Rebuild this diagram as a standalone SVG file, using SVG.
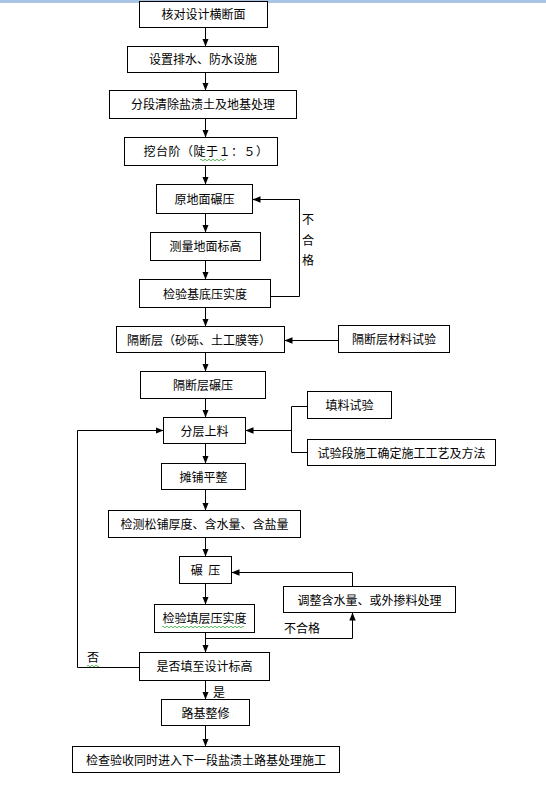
<svg xmlns="http://www.w3.org/2000/svg" width="546" height="786" viewBox="0 0 546 786">
<defs>
<marker id="ah" viewBox="0 0 8 8" refX="8" refY="4" markerWidth="8" markerHeight="8" markerUnits="userSpaceOnUse" orient="auto">
<path d="M0,0.8 L8,4 L0,7.2 Z" fill="#000"/>
</marker>
</defs>
<style>
.b{fill:#fff;stroke:#000;stroke-width:1}
.t{font-family:"Noto Sans CJK SC","Noto Sans CJK JP",sans-serif;font-size:12px;fill:#000;text-anchor:middle}
.c{fill:none;stroke:#000;stroke-width:1}
.a{fill:none;stroke:#000;stroke-width:1;marker-end:url(#ah)}
.w{fill:none;stroke:#2ca02c;stroke-width:0.8}
</style>
<rect width="546" height="786" fill="#fff"/>
<rect x="0" y="0" width="546" height="3" fill="#a9c4e4"/>

<g id="n1"><rect class="b" x="139.5" y="1.5" width="128" height="26"/><text class="t" x="203.5" y="18.5">核对设计横断面</text></g>
<g id="n2"><rect class="b" x="127.5" y="46.5" width="151" height="26"/><text class="t" x="203" y="64">设置排水、防水设施</text></g>
<g id="n3"><rect class="b" x="109.5" y="90.5" width="187" height="28"/><text class="t" x="203" y="109">分段清除盐渍土及地基处理</text></g>
<g id="n4"><rect class="b" x="124.5" y="137.5" width="153" height="28"/><text class="t" x="206" y="156" letter-spacing="0.5">挖台阶（陡于１：５）</text><path class="w" d="M200,160 q1,-1.5 2,0 t2,0 t2,0 t2,0 t2,0 t2,0 t2,0 t2,0 t2,0 t2,0 t2,0 t2,0 t2,0"/></g>
<g id="n5"><rect class="b" x="156.5" y="184.5" width="96" height="29"/><text class="t" x="204.5" y="203.5">原地面碾压</text></g>
<g id="n6"><rect class="b" x="150.5" y="232.5" width="110" height="28"/><text class="t" x="205.5" y="251">测量地面标高</text></g>
<g id="n7"><rect class="b" x="139.5" y="279.5" width="131" height="28"/><text class="t" x="205" y="298.5">检验基底压实度</text></g>
<g id="n8"><rect class="b" x="116.5" y="326.5" width="168" height="26"/><text class="t" x="199" y="344.5">隔断层（砂砾、土工膜等）</text></g>
<g id="n9"><rect class="b" x="338.5" y="325.5" width="111" height="27"/><text class="t" x="394" y="343.5">隔断层材料试验</text></g>
<g id="n10"><rect class="b" x="140.5" y="371.5" width="125" height="27"/><text class="t" x="203" y="389.5">隔断层碾压</text></g>
<g id="n11"><rect class="b" x="307.5" y="391.5" width="84" height="27"/><text class="t" x="349.5" y="409.5">填料试验</text></g>
<g id="n12"><rect class="b" x="163.5" y="417.5" width="82" height="26"/><text class="t" x="204.5" y="435.5">分层上料</text></g>
<g id="n13"><rect class="b" x="307.5" y="439.5" width="188" height="26"/><text class="t" x="401.5" y="457.5">试验段施工确定施工工艺及方法</text></g>
<g id="n14"><rect class="b" x="161.5" y="463.5" width="84" height="26"/><text class="t" x="203.5" y="481.5">摊铺平整</text></g>
<g id="n15"><rect class="b" x="108.5" y="510.5" width="192" height="27"/><text class="t" x="204.5" y="528.5">检测松铺厚度、含水量、含盐量</text></g>
<g id="n16"><rect class="b" x="179.5" y="556.5" width="52" height="27"/><text class="t" x="205.5" y="574.5" xml:space="preserve">碾  压</text></g>
<g id="n17"><rect class="b" x="154.5" y="604.5" width="100" height="28"/><text class="t" x="204.5" y="622.5">检验填层压实度</text><path class="w" d="M162,627 q1,-1.5 2,0 t2,0 t2,0 t2,0 t2,0 t2,0 t2,0 t2,0 t2,0 t2,0 t2,0 t2,0 t2,0 t2,0 t2,0 t2,0 t2,0 t2,0 t2,0 t2,0 t2,0 t2,0 t2,0 t2,0 t2,0 t2,0 t2,0 t2,0 t2,0 t2,0 t2,0 t2,0 t2,0 t2,0 t2,0 t2,0 t2,0 t2,0 t2,0 t2,0 t2,0"/></g>
<g id="n18"><rect class="b" x="283.5" y="586.5" width="172" height="26"/><text class="t" x="369.5" y="604.5">调整含水量、或外掺料处理</text></g>
<g id="n19"><rect class="b" x="139.5" y="652.5" width="130" height="28"/><text class="t" x="204.5" y="671">是否填至设计标高</text></g>
<g id="n20"><rect class="b" x="161.5" y="699.5" width="88" height="26"/><text class="t" x="205.5" y="717.5">路基整修</text></g>
<g id="n21"><rect class="b" x="72.5" y="746.5" width="267" height="26"/><text class="t" x="206" y="764.5">检查验收同时进入下一段盐渍土路基处理施工</text></g>

<g id="connectors">
<path class="a" d="M205.5,27.5 V46.5"/>
<path class="a" d="M205.5,72.5 V90.5"/>
<path class="a" d="M205.5,118.5 V137.5"/>
<path class="a" d="M205.5,165.5 V184.5"/>
<path class="a" d="M205.5,213.5 V232.5"/>
<path class="a" d="M205.5,260.5 V279.5"/>
<path class="a" d="M205.5,307.5 V326.5"/>
<path class="a" d="M205.5,352.5 V371.5"/>
<path class="a" d="M205.5,398.5 V417.5"/>
<path class="a" d="M205.5,443.5 V463.5"/>
<path class="a" d="M205.5,489.5 V510.5"/>
<path class="a" d="M205.5,537.5 V556.5"/>
<path class="a" d="M205.5,583.5 V604.5"/>
<path class="a" d="M205.5,632.5 V652.5"/>
<path class="a" d="M205.5,680.5 V699.5"/>
<path class="a" d="M205.5,725.5 V746.5"/>
<path class="a" d="M270.5,296.5 H299.5 V199.5 H252.5"/>
<path class="a" d="M338.5,340.5 H284.5"/>
<path class="c" d="M307.5,406.5 H291.5 V452.5 H307.5"/>
<path class="a" d="M291.5,430.5 H245.5"/>
<path class="a" d="M139.5,667.5 H77.5 V430.5 H163.5"/>
<path class="a" d="M205.5,638.5 H352.5 V612.5"/>
<path class="a" d="M352.5,586.5 V572.5 H231.5"/>
</g>
<g id="labels">
<text class="t" x="308" y="224">不</text>
<text class="t" x="308" y="245">合</text>
<text class="t" x="308" y="265">格</text>
<text class="t" x="302" y="633">不合格</text>
<text class="t" x="93" y="662">否</text>
<path class="w" d="M87,666 q1,-1.5 2,0 t2,0 t2,0 t2,0 t2,0 t2,0"/>
<text class="t" x="219" y="697">是</text>
</g>
</svg>
